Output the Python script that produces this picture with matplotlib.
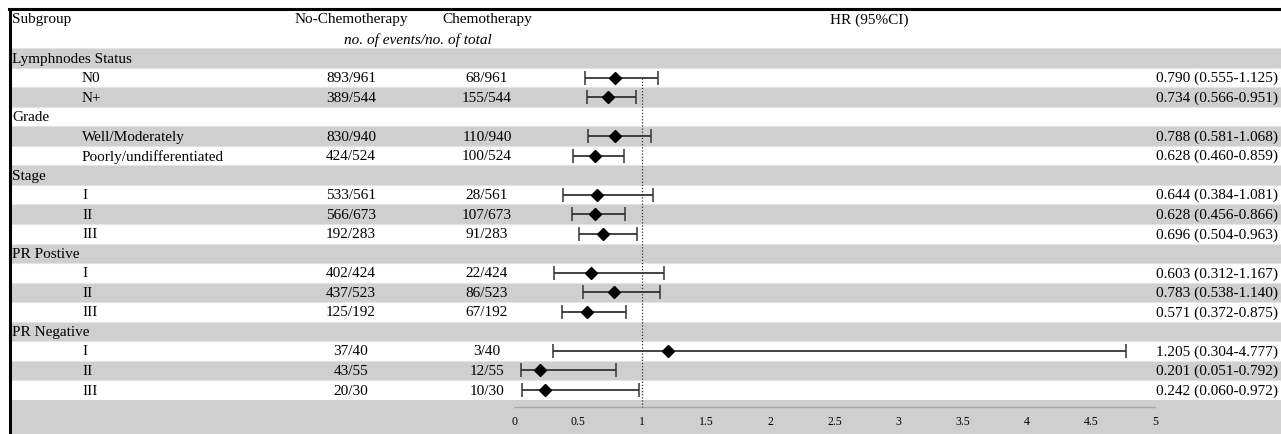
"""Forest plot of HR by subgroup, chemotherapy vs no chemotherapy."""
import numpy as np
import matplotlib
matplotlib.use("Agg")
import matplotlib.pyplot as plt
from matplotlib.lines import Line2D

# --- data ------------------------------------------------------------------ #
groups = ["Lymphnodes Status", "Grade", "Stage", "PR Postive", "PR Negative"]
subgroups = [["N0", "N+"],
             ["Well/Moderately", "Poorly/undifferentiated"],
             ["I", "II", "III"],
             ["I", "II", "III"],
             ["I", "II", "III"]]
no_chemo = ["893/961", "389/544", "830/940", "424/524", "533/561", "566/673",
            "192/283", "402/424", "437/523", "125/192", "37/40", "43/55", "20/30"]
chemo = ["68/961", "155/544", "110/940", "100/524", "28/561", "107/673",
         "91/283", "22/424", "86/523", "67/192", "3/40", "12/55", "10/30"]
hr = [0.790, 0.734, 0.788, 0.628, 0.644, 0.628, 0.696, 0.603, 0.783, 0.571,
      1.205, 0.201, 0.242]
lo = [0.555, 0.566, 0.581, 0.460, 0.384, 0.456, 0.504, 0.312, 0.538, 0.372,
      0.304, 0.051, 0.060]
hi = [1.125, 0.951, 1.068, 0.859, 1.081, 0.866, 0.963, 1.167, 1.140, 0.875,
      4.777, 0.792, 0.972]
xticks = [0, 0.5, 1, 1.5, 2, 2.5, 3, 3.5, 4, 4.5, 5]

# --- layout ------------------------------------------------------------------ #
W, H = 1281, 435
PX0, PXU = 514.0, 128.2          # pixel of HR=0, pixels per HR unit
PY0, PYU = 59.0, 19.53           # pixel of first row centre, row pitch
GRAY = "#d0cfd0"
FS = 11
plt.rcParams.update({"font.family": "serif",
                     "font.serif": ["Liberation Serif", "DejaVu Serif"]})


def fx(px):
    return px / W


fig = plt.figure(figsize=(W / 100, H / 100), dpi=100)
ax = fig.add_axes([0, 0, 1, 1])
ax.set_xlim(-PX0 / PXU, (W - PX0) / PXU)
ax.set_ylim((H - PY0) / PYU, -PY0 / PYU)
ax.axis("off")
yt = ax.get_yaxis_transform()

# build row list
rows = []   # (kind, label, idx into data)
k = 0
for g, subs in zip(groups, subgroups):
    rows.append(("g", g, None))
    for s in subs:
        rows.append(("s", s, k))
        k += 1
n_rows = len(rows)

# banding
for i in range(n_rows):
    if i % 2 == 0:
        ax.axhspan(i - 0.5, i + 0.5, xmin=fx(11), xmax=1, color=GRAY, lw=0)
    ax.axhline(i - 0.5, xmin=fx(11), xmax=1, color="#e4e4e4", lw=0.8)
ax.axhspan(n_rows - 0.5, (H - PY0) / PYU, xmin=fx(11), xmax=1, color=GRAY, lw=0)

# frame (top + left)
fig.add_artist(Line2D([fx(10), fx(10)], [0, 1 - 9.5 / H], color="black", lw=2.2,
                      transform=fig.transFigure))
fig.add_artist(Line2D([fx(9), 1], [1 - 9.5 / H, 1 - 9.5 / H], color="black", lw=2.2,
                      transform=fig.transFigure))

# headers
yh1 = (20 - PY0) / PYU
yh2 = (40 - PY0) / PYU
ax.text(fx(12), yh1, "Subgroup", transform=yt, fontsize=FS, va="center")
ax.text(fx(351), yh1, "No-Chemotherapy", transform=yt, fontsize=FS,
        va="center", ha="center")
ax.text(fx(487), yh1, "Chemotherapy", transform=yt, fontsize=FS,
        va="center", ha="center")
ax.text(fx(418), yh2, "no. of events/no. of total", transform=yt, fontsize=FS,
        va="center", ha="center", style="italic")
ax.text(fx(869), yh1, "HR (95%CI)", transform=yt, fontsize=FS,
        va="center", ha="center")

# table text
ys = []
for i, (kind, lab, j) in enumerate(rows):
    if kind == "g":
        ax.text(fx(12), i, lab, transform=yt, fontsize=FS, va="center")
        continue
    ys.append(i)
    ax.text(fx(82), i, lab, transform=yt, fontsize=FS, va="center")
    ax.text(fx(351), i, no_chemo[j], transform=yt, fontsize=FS,
            va="center", ha="center")
    ax.text(fx(487), i, chemo[j], transform=yt, fontsize=FS,
            va="center", ha="center")
    ax.text(fx(1278), i, f"{hr[j]:.3f} ({lo[j]:.3f}-{hi[j]:.3f})", transform=yt,
            fontsize=FS, va="center", ha="right")

ys = np.array(ys, float)
hr_a, lo_a, hi_a = np.array(hr), np.array(lo), np.array(hi)

# axis line, reference line, ticks
y_axis = (407.5 - PY0) / PYU
y_tick = (422 - PY0) / PYU
ax.plot([xticks[0], xticks[-1]], [y_axis, y_axis], color="#a8a8a8", lw=1.0)
ax.plot([1, 1], [ys[0], y_axis], color="#333333", lw=0.9, ls=(0, (1, 1.5)))
for t in xticks:
    ax.text(t, y_tick, f"{t:g}", fontsize=8.5, ha="center", va="center")

# estimates
ax.errorbar(hr_a, ys, xerr=[hr_a - lo_a, hi_a - hr_a], fmt="D", color="black",
            ecolor="#333333", elinewidth=1.3, capsize=5, capthick=1.1,
            markersize=6, zorder=5)

fig.savefig("out.png", dpi=100)
